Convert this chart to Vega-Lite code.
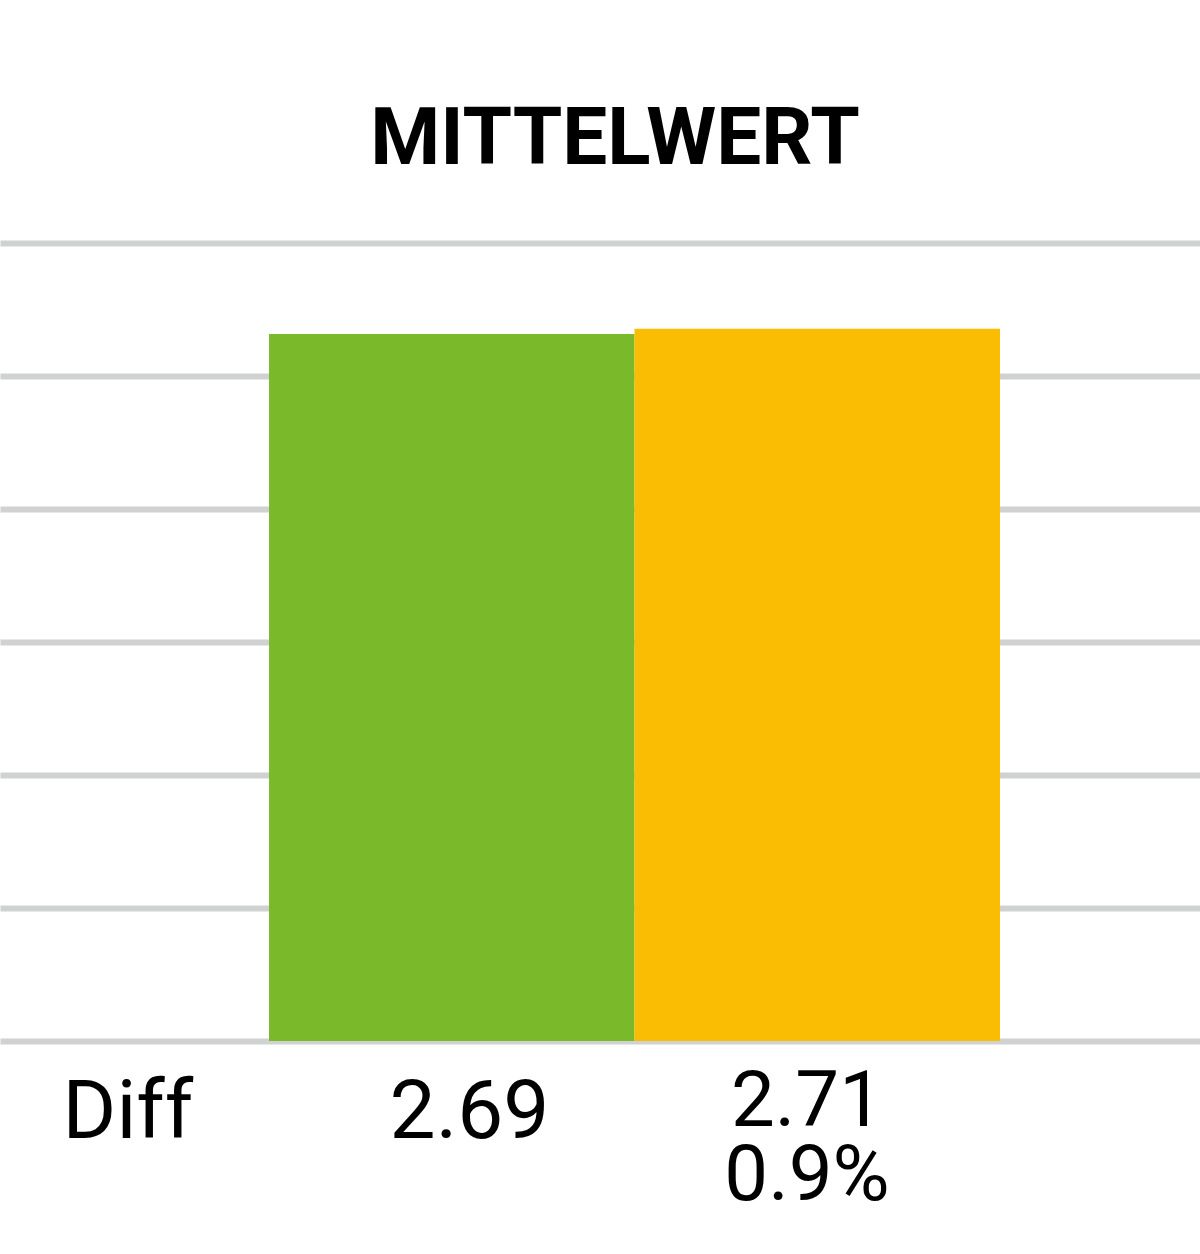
{
  "$schema": "https://vega.github.io/schema/vega-lite/v6.json",
  "width": 1200,
  "height": 798,
  "autosize": "none",
  "padding": {"top": 243, "left": 0, "right": 0, "bottom": 213},
  "background": "white",
  "title": {
    "text": "MITTELWERT",
    "font": "Roboto",
    "fontSize": 80,
    "fontWeight": "bold",
    "color": "black",
    "anchor": "middle",
    "dx": 15,
    "offset": 62
  },
  "config": {"view": {"stroke": null}},
  "resolve": {"scale": {"x": "independent"}},
  "layer": [
    {
      "data": {"values": [
        {"gruppe": "A", "mittelwert": 2.69},
        {"gruppe": "B", "mittelwert": 2.71}
      ]},
      "mark": {"type": "bar"},
      "encoding": {
        "x": {
          "field": "gruppe",
          "type": "nominal",
          "scale": {"paddingInner": 0, "paddingOuter": 0.6416, "align": 0.5736},
          "axis": null
        },
        "y": {
          "field": "mittelwert",
          "type": "quantitative",
          "scale": {"domain": [0, 3.036], "nice": false, "zero": true},
          "axis": {
            "values": [0, 0.506, 1.012, 1.518, 2.024, 2.53, 3.036],
            "grid": true,
            "gridColor": "#D0D2D2",
            "gridWidth": 6,
            "domain": false,
            "ticks": false,
            "labels": false,
            "title": null
          }
        },
        "color": {
          "field": "gruppe",
          "type": "nominal",
          "scale": {"range": ["#7AB92A", "#FBBC04"]},
          "legend": null
        }
      }
    },
    {
      "data": {"values": [
        {"spalte": "Diff", "text": "Diff"},
        {"spalte": "A", "text": "2.69"}
      ]},
      "mark": {"type": "text", "font": "Roboto", "fontSize": 82, "color": "black", "baseline": "alphabetic", "align": "center", "dx": 4, "dy": 97},
      "encoding": {
        "x": {
          "field": "spalte",
          "type": "nominal",
          "scale": {"type": "point", "domain": ["Diff", "A", "B"], "range": [124, 807], "padding": 0},
          "axis": null
        },
        "y": {"datum": 0, "type": "quantitative"},
        "text": {"field": "text"}
      }
    },
    {
      "data": {"values": [
        {"spalte": "B", "text": ["2.71", "0.9%"]}
      ]},
      "mark": {"type": "text", "font": "Roboto", "fontSize": 78, "lineHeight": 74, "color": "black", "baseline": "alphabetic", "align": "center", "dy": 85},
      "encoding": {
        "x": {
          "field": "spalte",
          "type": "nominal",
          "scale": {"type": "point", "domain": ["Diff", "A", "B"], "range": [124, 807], "padding": 0},
          "axis": null
        },
        "y": {"datum": 0, "type": "quantitative"},
        "text": {"field": "text"}
      }
    }
  ]
}
